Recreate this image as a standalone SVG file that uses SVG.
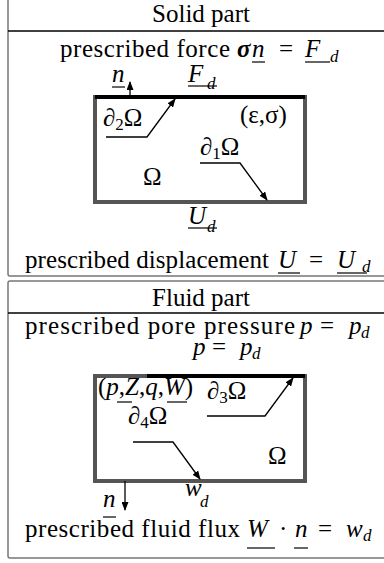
<svg xmlns="http://www.w3.org/2000/svg" width="384" height="563" viewBox="0 0 384 563">
<style>
text{font-family:"Liberation Serif","Times New Roman",serif;font-size:25px;fill:#000}
.i{font-style:italic}
.s{font-size:17px}
.frame{fill:none;stroke:#777;stroke-width:1.5}
.div{stroke:#000;stroke-width:1.3}
.dom{fill:none;stroke:#555;stroke-width:4}
.bnd{stroke:#000;stroke-width:4}
.ul{stroke:#000;stroke-width:1.2}
.con{fill:none;stroke:#000;stroke-width:1.3}
</style>
<defs>
<marker id="ah" markerUnits="userSpaceOnUse" markerWidth="9" markerHeight="7" refX="8" refY="3.5" orient="auto">
<path d="M0,0 L9,3.5 L0,7 Z" fill="#000"/>
</marker>
</defs>
<rect width="384" height="563" fill="#fff"/>

<g id="solid-table">
<rect class="frame" x="8" y="-10" width="390" height="286" rx="2"/>
<line class="div" x1="8" y1="31" x2="384" y2="31"/>
<text x="201" y="22" text-anchor="middle">Solid part</text>
<text x="60" y="57" textLength="170">prescribed force</text>
<text x="237" y="57" class="i" font-weight="bold">σ</text>
<text x="252" y="57" class="i">n</text>
<line class="ul" x1="252" y1="62" x2="265" y2="62"/>
<text x="279" y="57" font-size="28">=</text>
<text x="305" y="57" class="i">F</text>
<line class="ul" x1="305" y1="62" x2="330" y2="62"/>
<text x="330" y="62" class="i s">d</text>
<text x="25" y="268" textLength="244">prescribed displacement</text>
<text x="278" y="268" class="i">U</text>
<line class="ul" x1="278" y1="273" x2="300" y2="273"/>
<text x="309" y="268" font-size="28">=</text>
<text x="337" y="268" class="i">U</text>
<line class="ul" x1="337" y1="273" x2="367" y2="273"/>
<text x="362" y="272" class="i s">d</text>
</g>

<g id="solid-domain">
<rect class="dom" x="95" y="97" width="210" height="105"/>
<line class="bnd" x1="95" y1="97" x2="305" y2="97"/>
<text x="112" y="82" class="i">n</text>
<line class="ul" x1="112" y1="87" x2="125" y2="87"/>
<text x="188" y="82" class="i">F</text>
<line class="ul" x1="188" y1="86" x2="217" y2="86"/>
<text x="207" y="89" class="i s">d</text>
<text x="103" y="126">∂<tspan class="s" dy="4">2</tspan><tspan dy="-4">Ω</tspan></text>
<text x="240" y="123">(ε,σ)</text>
<text x="200" y="155">∂<tspan class="s" dy="4">1</tspan><tspan dy="-4">Ω</tspan></text>
<text x="143" y="185">Ω</text>
<text x="188" y="224" class="i">U</text>
<line class="ul" x1="188" y1="228" x2="217" y2="228"/>
<text x="207" y="232" class="i s">d</text>
</g>

<g id="fluid-table">
<rect class="frame" x="8" y="281" width="390" height="277" rx="2"/>
<line class="div" x1="8" y1="313" x2="384" y2="313"/>
<text x="201" y="306" text-anchor="middle">Fluid part</text>
<text x="25" y="334" textLength="270">prescribed pore pressure</text>
<text x="300" y="334" class="i">p</text>
<text x="320" y="334" font-size="28">=</text>
<text x="349" y="334" class="i">p</text>
<text x="361" y="338" class="i s">d</text>
<text x="25" y="537" textLength="215">prescribed fluid flux</text>
<text x="247" y="537" class="i">W</text>
<line class="ul" x1="247" y1="548" x2="275" y2="548"/>
<text x="279" y="537">·</text>
<text x="295" y="537" class="i">n</text>
<line class="ul" x1="294" y1="548" x2="308" y2="548"/>
<text x="318" y="537" font-size="28">=</text>
<text x="346" y="537" class="i">w</text>
<text x="363" y="541" class="i s">d</text>
</g>

<g id="fluid-domain">
<rect class="dom" x="95" y="376" width="210" height="105"/>
<line class="bnd" x1="147" y1="376" x2="305" y2="376"/>
<text x="193" y="355" class="i">p</text>
<text x="212" y="355" font-size="28">=</text>
<text x="240" y="355" class="i">p</text>
<text x="252" y="359" class="i s">d</text>
<text x="98" y="395">(<tspan class="i">p</tspan>,<tspan class="i">Z</tspan>,<tspan class="i">q</tspan>,<tspan class="i">W</tspan>)</text>
<line class="ul" x1="117" y1="402" x2="132" y2="402"/>
<line class="ul" x1="167" y1="402" x2="187" y2="402"/>
<text x="207" y="399">∂<tspan class="s" dy="4">3</tspan><tspan dy="-4">Ω</tspan></text>
<text x="128" y="424">∂<tspan class="s" dy="4">4</tspan><tspan dy="-4">Ω</tspan></text>
<text x="268" y="464">Ω</text>
<text x="103" y="507" class="i">n</text>
<line class="ul" x1="103" y1="517" x2="116" y2="517"/>
<text x="185" y="496" class="i">w</text>
<text x="200" y="507" class="i s">d</text>
</g>

<g id="connectors">
<line class="con" x1="130" y1="97" x2="130" y2="82" marker-end="url(#ah)"/>
<polyline class="con" points="106,137 147,137 175,99" marker-end="url(#ah)"/>
<polyline class="con" points="200,163 240,163 267,200" marker-end="url(#ah)"/>
<polyline class="con" points="207,416 265,416 293,378" marker-end="url(#ah)"/>
<polyline class="con" points="133,442 173,442 200,479" marker-end="url(#ah)"/>
<line class="con" x1="125" y1="481" x2="125" y2="510" marker-end="url(#ah)"/>
</g>
</svg>
